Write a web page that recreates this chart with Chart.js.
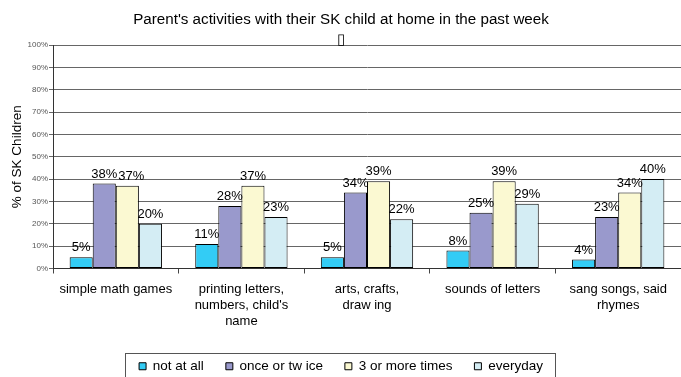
<!DOCTYPE html>
<html>
<head>
<meta charset="utf-8">
<title>Parent's activities</title>
<script src="https://cdn.jsdelivr.net/npm/chart.js@4.4.1/dist/chart.umd.min.js"></script>
<style>
    html, body { margin: 0; padding: 0; background: #fff; }
    #wrap { width: 681px; height: 377px; position: relative; }
</style>
</head>
<body>
<div id="wrap"><canvas id="activityChart"></canvas></div>
<script>
const FONT = "'Liberation Sans', Arial, sans-serif";

const categories = [
    ['simple math games'],
    ['printing letters,', "numbers, child's", 'name'],
    ['arts, crafts,', 'draw ing'],
    ['sounds of letters'],
    ['sang songs, said', 'rhymes']
];
const seriesNames = ['not at all', 'once or tw ice', '3 or more times', 'everyday'];
const notAtAll = [5, 11, 5, 8, 4];
const onceOrTwice = [38, 28, 34, 25, 23];
const threeOrMore = [37, 37, 39, 39, 34];
const everyday = [20, 23, 22, 29, 40];
const seriesColors = ['#33CCF5', '#9999CC', '#FBF9D2', '#D4EDF4'];
const yTicks = [0, 10, 20, 30, 40, 50, 60, 70, 80, 90, 100];

// value labels above every bar; a label that would collide with its
// left neighbour is pushed sideways
const barLabels = {
    id: 'barLabels',
    afterDatasetsDraw(chart) {
        const { ctx } = chart;
        ctx.save();
        ctx.font = `13px ${FONT}`;
        ctx.fillStyle = '#000';
        ctx.textAlign = 'center';
        ctx.textBaseline = 'alphabetic';
        const lastInCategory = [];
        chart.data.datasets.forEach((ds, i) => {
            chart.getDatasetMeta(i).data.forEach((bar, j) => {
                const text = ds.data[j] + '%';
                const w = ctx.measureText(text).width;
                let x = bar.x;
                const y = bar.y - 6;
                const prev = lastInCategory[j];
                if (prev && Math.abs(prev.y - y) < 10 && x - w / 2 < prev.right + 1) {
                    x = prev.right + 1 + w / 2;
                }
                ctx.fillText(text, x, y);
                lastInCategory[j] = { y, right: x + w / 2 };
            });
        });
        ctx.restore();
    }
};

// thin frame around the legend row
const legendFrame = {
    id: 'legendFrame',
    afterDraw(chart) {
        const boxes = chart.legend && chart.legend.legendHitBoxes;
        if (!boxes || !boxes.length) return;
        const first = boxes[0];
        const last = boxes[boxes.length - 1];
        const { ctx } = chart;
        ctx.save();
        ctx.strokeStyle = '#555';
        ctx.lineWidth = 1;
        const left = Math.round(first.left - 14) + 0.5;
        const right = Math.round(last.left + last.width + 12) + 0.5;
        const top = Math.round(first.top + first.height / 2 - 13) + 0.5;
        ctx.strokeRect(left, top, right - left, chart.height + 10 - top);
        ctx.restore();
    }
};

const datasets = [notAtAll, onceOrTwice, threeOrMore, everyday].map((values, i) => ({
    label: seriesNames[i],
    data: values,
    backgroundColor: seriesColors[i],
    borderColor: '#000',
    borderWidth: 1,
    borderSkipped: false,
    barPercentage: 1,
    categoryPercentage: 0.735
}));

new Chart(document.getElementById('activityChart'), {
    type: 'bar',
    data: { labels: categories, datasets },
    options: {
        responsive: true,
        maintainAspectRatio: false,
        animation: false,
        events: [],
        layout: { padding: { left: 0, right: -1, top: 0, bottom: -6 } },
        plugins: {
            tooltip: { enabled: false },
            title: {
                display: true,
                text: ["Parent's activities with their SK child at home in the past week", '\u25AF'],
                color: '#000',
                font: { family: FONT, size: 15.2, weight: 'normal', lineHeight: '20px' },
                padding: { top: 10, bottom: -5 }
            },
            legend: {
                position: 'bottom',
                labels: {
                    color: '#000',
                    font: { family: FONT, size: 13.5 },
                    boxWidth: 7,
                    boxHeight: 7,
                    padding: 22
                }
            }
        },
        scales: {
            x: {
                grid: {
                    offset: true,
                    drawOnChartArea: false,
                    tickLength: 5,
                    color: '#444'
                },
                border: { color: '#333' },
                ticks: {
                    color: '#000',
                    font: { family: FONT, size: 13, lineHeight: '16px' },
                    padding: 8,
                    maxRotation: 0,
                    autoSkip: false
                },
                afterFit(scale) { scale.height = 69; }
            },
            y: {
                min: 0,
                max: 100,
                afterBuildTicks(scale) {
                    scale.ticks = yTicks.map(v => ({ value: v }));
                },
                grid: { color: '#666', tickLength: 4 },
                border: { color: '#333' },
                ticks: {
                    color: '#555',
                    font: { family: FONT, size: 8 },
                    padding: 1,
                    callback: v => v + '%'
                },
                title: {
                    display: true,
                    text: '% of SK Children',
                    color: '#000',
                    font: { family: FONT, size: 13.5 },
                    padding: { top: 9, bottom: 0 }
                },
                afterFit(scale) { scale.width = 53; }
            }
        }
    },
    plugins: [barLabels, legendFrame]
});
</script>
</body>
</html>
